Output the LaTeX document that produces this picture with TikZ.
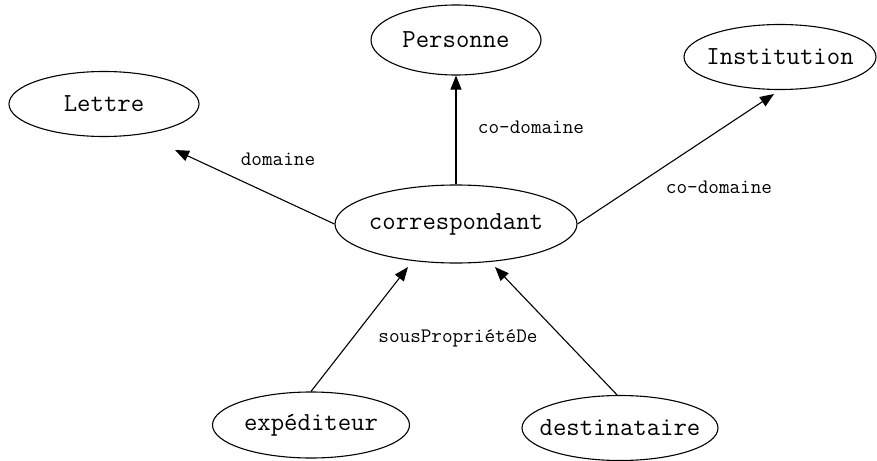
\documentclass[tikz,border=0pt]{standalone}
\usetikzlibrary{shapes.geometric,arrows.meta}
\begin{document}
\begin{tikzpicture}[x=1pt,y=-1pt, line join=round, >={Triangle[length=14pt,width=11pt]},
	classe/.style={draw, ellipse, line width=1.1pt, inner xsep=-60pt, inner ysep=0pt,
		font=\fontsize{26}{28}\selectfont\ttfamily},
	prop/.style={font=\fontsize{20.6}{22}\selectfont\ttfamily},
	lien/.style={->, line width=1.1pt}]
	\useasboundingbox (0,0) rectangle (877,460);
	% les classes
	\node[classe, minimum width=190pt, minimum height=65pt] (lettre) at (104,104) {Lettre};
	\node[classe, minimum width=170pt, minimum height=70pt] (personne) at (456,40) {Personne};
	\node[classe, minimum width=192pt, minimum height=65pt] (institution) at (780,57) {Institution};
	\node[classe, minimum width=242pt, minimum height=78pt] (corr) at (456,224) {correspondant};
	\node[classe, minimum width=197pt, minimum height=66pt] (exped) at (311,425) {expéditeur};
	\node[classe, minimum width=196pt, minimum height=65pt] (destin) at (620,428) {destinataire};
	% pointes des fleches
	\coordinate (versLettre) at (175,150);
	\coordinate (versInst) at (774,94);
	\coordinate (versCorrG) at (408,267);
	\coordinate (versCorrD) at (495,267);
	% les proprietes
	\draw[lien] (corr.west) -- (versLettre);
	\draw[lien] (corr.north) -- (personne.south);
	\draw[lien] (corr.east) -- (versInst);
	\draw[lien] (exped.north) -- (versCorrG);
	\draw[lien] (destin.95) -- (versCorrD);
	\node[prop] (domaine) at (278,159) {domaine};
	\node[prop] (codomP) at (531,127) {co-domaine};
	\node[prop] (codomI) at (719,187) {co-domaine};
	\node[prop] (sousprop) at (458,338) {sousPropriétéDe};
\end{tikzpicture}
\end{document}
